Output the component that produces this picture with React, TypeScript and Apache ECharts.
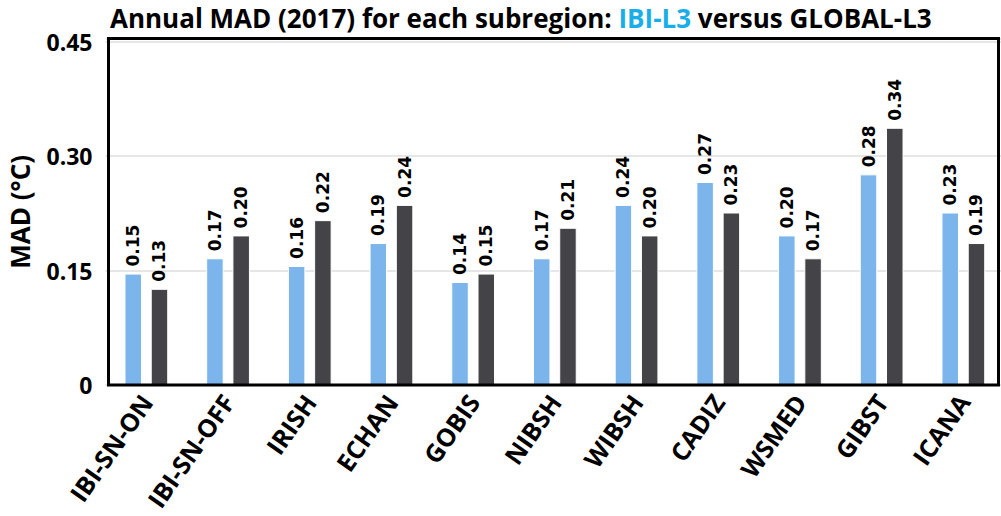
import React, { useEffect, useRef } from "react";
import * as echarts from "echarts";

const categories = ["IBI-SN-ON", "IBI-SN-OFF", "IRISH", "ECHAN", "GOBIS", "NIBSH", "WIBSH", "CADIZ", "WSMED", "GIBST", "ICANA"];
const ibiL3 = [0.146, 0.166, 0.156, 0.186, 0.135, 0.166, 0.236, 0.266, 0.196, 0.276, 0.226];
const globalL3 = [0.126, 0.196, 0.216, 0.236, 0.146, 0.206, 0.196, 0.226, 0.166, 0.337, 0.186];
const yTicks = [0, 0.15, 0.3, 0.45];
const yTickLabels = ["0", "0.15", "0.30", "0.45"];

export default function App() {
  const ref = useRef<HTMLDivElement>(null);
  useEffect(() => {
    if (!ref.current) return;
    const chart = echarts.init(ref.current, undefined, { renderer: "svg" });
    const labelCfg = {
      show: true,
      position: "top" as const,
      rotate: 90,
      align: "left" as const,
      verticalAlign: "middle" as const,
      distance: 7,
      color: "#000",
      fontFamily: "DejaVu Sans",
      fontWeight: "bold" as const,
      fontSize: 17,
      formatter: (p: any) => Number(p.value).toFixed(2),
    };
    chart.setOption({
      animation: false,
      backgroundColor: "#fff",
      title: {
        text: "{a|Annual MAD (2017) for each subregion: }{b|IBI-L3}{a| versus GLOBAL-L3}",
        left: 110,
        top: 0,
        padding: 0,
        textStyle: {
          rich: {
            a: { fontFamily: "Open Sans", fontWeight: "bold", fontSize: 26, lineHeight: 36, color: "#000" },
            b: { fontFamily: "Open Sans", fontWeight: "bold", fontSize: 26, lineHeight: 36, color: "#1aaee8" },
          },
        },
      },
      graphic: [
        {
          type: "rect",
          z: 100,
          shape: { x: 108.5, y: 38.5, width: 890, height: 346.5 },
          style: { fill: "none", stroke: "#000", lineWidth: 3 },
        },
      ],
      grid: {
        left: 105.5,
        right: -3.2,
        top: 38.5,
        bottom: 131,
        containLabel: false,
        outerBoundsMode: "none",
      },
      xAxis: {
        type: "category",
        data: categories,
        axisLine: { show: false },
        axisTick: { show: false },
        axisLabel: {
          interval: 0,
          rotate: 55,
          margin: 12,
          color: "#000",
          fontFamily: "Open Sans",
          fontWeight: "bold",
          fontSize: 25,
        },
      },
      yAxis: {
        type: "value",
        min: 0,
        max: 0.454,
        interval: 0.15,
        name: "MAD (°C)",
        nameLocation: "middle",
        nameGap: 73,
        nameTextStyle: { color: "#000", fontFamily: "Open Sans", fontWeight: "bold", fontSize: 26 },
        axisLine: { show: false },
        axisTick: { show: false },
        splitLine: { lineStyle: { color: "#e6e6e6", width: 2 } },
        axisLabel: {
          margin: 13,
          color: "#000",
          fontFamily: "Open Sans",
          fontWeight: "bold",
          fontSize: 23,
          formatter: (v: number) => {
            const i = yTicks.findIndex((t) => Math.abs(t - v) < 1e-6);
            return i >= 0 ? yTickLabels[i] : "";
          },
        },
      },
      series: [
        {
          name: "IBI-L3",
          type: "bar",
          data: ibiL3,
          barWidth: 17.5,
          barGap: "50%",
          itemStyle: { color: "#7cb5ec", borderColor: "#fff", borderWidth: 1 },
          label: labelCfg,
        },
        {
          name: "GLOBAL-L3",
          type: "bar",
          data: globalL3,
          barWidth: 17.5,
          barGap: "50%",
          itemStyle: { color: "#434348", borderColor: "#fff", borderWidth: 1 },
          label: labelCfg,
        },
      ],
    });
    return () => chart.dispose();
  }, []);
  return <div ref={ref} style={{ position: "fixed", left: 0, top: 0, width: 1001, height: 516 }} />;
}
